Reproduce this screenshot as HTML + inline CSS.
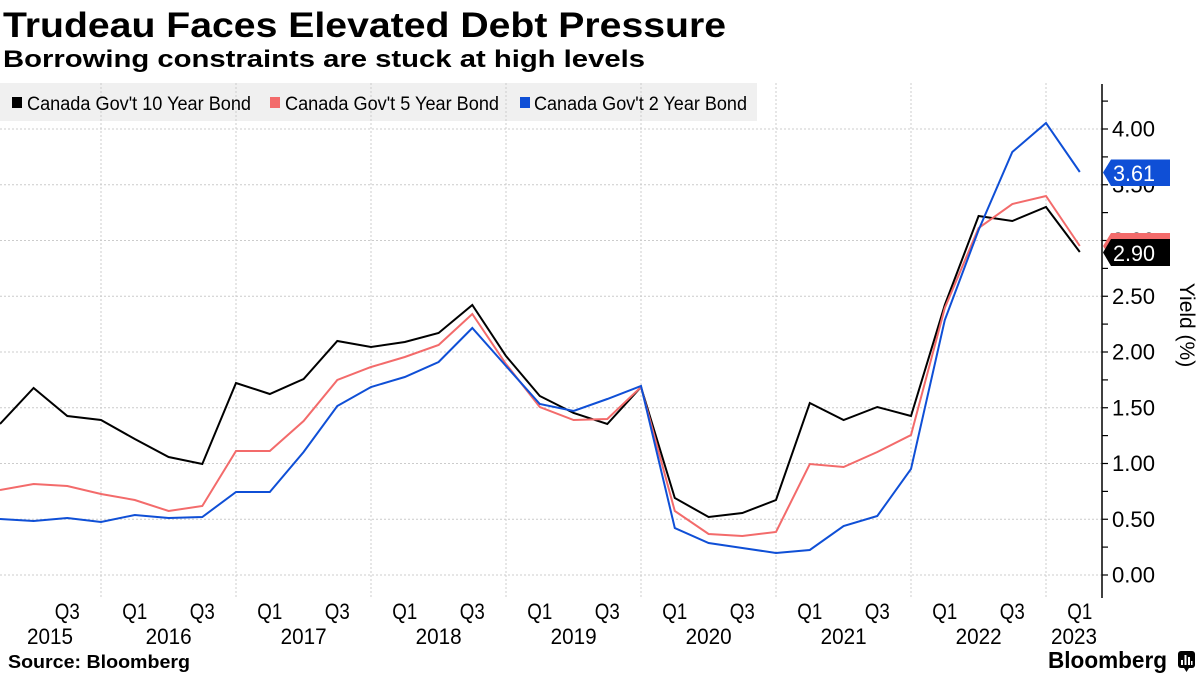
<!DOCTYPE html>
<html>
<head>
<meta charset="utf-8">
<style>
html,body{margin:0;padding:0;background:#fff;}
svg{display:block;}
text{font-family:"Liberation Sans",sans-serif;}
</style>
</head>
<body>
<svg width="1200" height="675" viewBox="0 0 1200 675" xmlns="http://www.w3.org/2000/svg">
<rect x="0" y="0" width="1200" height="675" fill="#fff"/>
<!-- Title -->
<text x="3" y="37" font-size="35" font-weight="bold" fill="#000" textLength="723" lengthAdjust="spacingAndGlyphs">Trudeau Faces Elevated Debt Pressure</text>
<text x="3" y="67" font-size="24" font-weight="bold" fill="#000" textLength="642" lengthAdjust="spacingAndGlyphs">Borrowing constraints are stuck at high levels</text>

<!-- Legend background -->
<rect x="0" y="83" width="757" height="38" fill="#f0f0f0"/>

<!-- Gridlines -->
<g stroke="#cccccc" stroke-width="1" stroke-dasharray="2,2" fill="none">
<line x1="0" y1="575" x2="1102" y2="575"/>
<line x1="0" y1="519.25" x2="1102" y2="519.25"/>
<line x1="0" y1="463.5" x2="1102" y2="463.5"/>
<line x1="0" y1="407.75" x2="1102" y2="407.75"/>
<line x1="0" y1="352" x2="1102" y2="352"/>
<line x1="0" y1="296.25" x2="1102" y2="296.25"/>
<line x1="0" y1="240.5" x2="1102" y2="240.5"/>
<line x1="0" y1="184.75" x2="1102" y2="184.75"/>
<line x1="0" y1="129" x2="1102" y2="129"/>
<line x1="101" y1="83" x2="101" y2="598"/>
<line x1="236" y1="83" x2="236" y2="598"/>
<line x1="371" y1="83" x2="371" y2="598"/>
<line x1="506" y1="83" x2="506" y2="598"/>
<line x1="641" y1="83" x2="641" y2="598"/>
<line x1="776" y1="83" x2="776" y2="598"/>
<line x1="911" y1="83" x2="911" y2="598"/>
<line x1="1046" y1="83" x2="1046" y2="598"/>
</g>

<!-- Legend items -->
<rect x="12" y="97" width="10" height="11" fill="#000"/>
<text x="27" y="110" font-size="19" fill="#000" textLength="224" lengthAdjust="spacingAndGlyphs">Canada Gov't 10 Year Bond</text>
<rect x="270" y="97" width="10" height="11" fill="#f36b6b"/>
<text x="285" y="110" font-size="19" fill="#000" textLength="214" lengthAdjust="spacingAndGlyphs">Canada Gov't 5 Year Bond</text>
<rect x="520" y="97" width="10" height="11" fill="#0f4fd6"/>
<text x="534" y="110" font-size="19" fill="#000" textLength="213" lengthAdjust="spacingAndGlyphs">Canada Gov't 2 Year Bond</text>

<!-- Series -->
<g fill="none" stroke-width="2" stroke-linejoin="miter">
<polyline stroke="#000" points="0,424 33.6,388 67.3,416 101,420 134.8,439 168.6,457 202.3,464 236,383 269.8,394 303.6,379 337.3,341 371,347 404.8,342 438.6,333 472.3,305 506,356 539.8,396 573.6,413 607.3,424 641,387 674.8,498 708.6,517 742.3,513 776,500 809.8,403 843.6,420 877.3,407 911,416 944.8,305 978.6,216 1012.3,221 1046,207 1079.8,252"/>
<polyline stroke="#f36b6b" points="0,490 33.6,484 67.3,486 101,494 134.8,500 168.6,511 202.3,506 236,451 269.8,451 303.6,421 337.3,380 371,367 404.8,357 438.6,345 472.3,314 506,364 539.8,407 573.6,420 607.3,419 641,387 674.8,511 708.6,534 742.3,536 776,532 809.8,464 843.6,467 877.3,452 911,435 944.8,308 978.6,228 1012.3,204 1046,196 1079.8,246"/>
<polyline stroke="#0f4fd6" points="0,519 33.6,521 67.3,518 101,522 134.8,515 168.6,518 202.3,517 236,492 269.8,492 303.6,452 337.3,406 371,387 404.8,377 438.6,362 472.3,328 506,366 539.8,404 573.6,411 607.3,399 641,386 674.8,528 708.6,543 742.3,548 776,553 809.8,550 843.6,526 877.3,516 911,469 944.8,320 978.6,230 1012.3,152 1046,123 1079.8,172"/>
</g>

<!-- Right axis -->
<line x1="1102" y1="84" x2="1102" y2="598" stroke="#000" stroke-width="1.5"/>
<g stroke="#000" stroke-width="1.2">
<line x1="1102" y1="575" x2="1108" y2="575"/>
<line x1="1102" y1="547.1" x2="1108" y2="547.1"/>
<line x1="1102" y1="519.25" x2="1108" y2="519.25"/>
<line x1="1102" y1="491.4" x2="1108" y2="491.4"/>
<line x1="1102" y1="463.5" x2="1108" y2="463.5"/>
<line x1="1102" y1="435.6" x2="1108" y2="435.6"/>
<line x1="1102" y1="407.75" x2="1108" y2="407.75"/>
<line x1="1102" y1="379.9" x2="1108" y2="379.9"/>
<line x1="1102" y1="352" x2="1108" y2="352"/>
<line x1="1102" y1="324.1" x2="1108" y2="324.1"/>
<line x1="1102" y1="296.25" x2="1108" y2="296.25"/>
<line x1="1102" y1="268.4" x2="1108" y2="268.4"/>
<line x1="1102" y1="240.5" x2="1108" y2="240.5"/>
<line x1="1102" y1="212.6" x2="1108" y2="212.6"/>
<line x1="1102" y1="184.75" x2="1108" y2="184.75"/>
<line x1="1102" y1="156.9" x2="1108" y2="156.9"/>
<line x1="1102" y1="129" x2="1108" y2="129"/>
<line x1="1102" y1="101.1" x2="1108" y2="101.1"/>
</g>
<g font-size="22" fill="#000">
<text x="1112" y="582.5" textLength="43" lengthAdjust="spacingAndGlyphs">0.00</text>
<text x="1112" y="527" textLength="43" lengthAdjust="spacingAndGlyphs">0.50</text>
<text x="1112" y="471" textLength="43" lengthAdjust="spacingAndGlyphs">1.00</text>
<text x="1112" y="415.5" textLength="43" lengthAdjust="spacingAndGlyphs">1.50</text>
<text x="1112" y="359.5" textLength="43" lengthAdjust="spacingAndGlyphs">2.00</text>
<text x="1112" y="304" textLength="43" lengthAdjust="spacingAndGlyphs">2.50</text>
<text x="1112" y="248" textLength="43" lengthAdjust="spacingAndGlyphs">3.00</text>
<text x="1112" y="192.5" textLength="43" lengthAdjust="spacingAndGlyphs">3.50</text>
<text x="1112" y="136.5" textLength="43" lengthAdjust="spacingAndGlyphs">4.00</text>
</g>
<text transform="translate(1180,325) rotate(90)" text-anchor="middle" font-size="21" fill="#000">Yield (%)</text>

<!-- Value tags -->
<polygon points="1103,172.5 1111,159.5 1170,159.5 1170,186 1111,186" fill="#0f4fd6"/>
<text x="1113" y="181" font-size="22" fill="#fff" textLength="42" lengthAdjust="spacingAndGlyphs">3.61</text>
<polygon points="1103,246 1111,233 1170,233 1170,259 1111,259" fill="#f36b6b"/>
<polygon points="1103,252.5 1111,239 1170,239 1170,266 1111,266" fill="#000"/>
<text x="1113" y="261" font-size="22" fill="#fff" textLength="42" lengthAdjust="spacingAndGlyphs">2.90</text>

<!-- X axis labels -->
<g font-size="22" fill="#000" text-anchor="middle">
<text x="67.3" y="619" textLength="25" lengthAdjust="spacingAndGlyphs">Q3</text>
<text x="134.8" y="619" textLength="25" lengthAdjust="spacingAndGlyphs">Q1</text>
<text x="202.3" y="619" textLength="25" lengthAdjust="spacingAndGlyphs">Q3</text>
<text x="269.8" y="619" textLength="25" lengthAdjust="spacingAndGlyphs">Q1</text>
<text x="337.3" y="619" textLength="25" lengthAdjust="spacingAndGlyphs">Q3</text>
<text x="404.8" y="619" textLength="25" lengthAdjust="spacingAndGlyphs">Q1</text>
<text x="472.3" y="619" textLength="25" lengthAdjust="spacingAndGlyphs">Q3</text>
<text x="539.8" y="619" textLength="25" lengthAdjust="spacingAndGlyphs">Q1</text>
<text x="607.3" y="619" textLength="25" lengthAdjust="spacingAndGlyphs">Q3</text>
<text x="674.8" y="619" textLength="25" lengthAdjust="spacingAndGlyphs">Q1</text>
<text x="742.3" y="619" textLength="25" lengthAdjust="spacingAndGlyphs">Q3</text>
<text x="809.8" y="619" textLength="25" lengthAdjust="spacingAndGlyphs">Q1</text>
<text x="877.3" y="619" textLength="25" lengthAdjust="spacingAndGlyphs">Q3</text>
<text x="944.8" y="619" textLength="25" lengthAdjust="spacingAndGlyphs">Q1</text>
<text x="1012.3" y="619" textLength="25" lengthAdjust="spacingAndGlyphs">Q3</text>
<text x="1079.8" y="619" textLength="25" lengthAdjust="spacingAndGlyphs">Q1</text>
<text x="50" y="644" textLength="46" lengthAdjust="spacingAndGlyphs">2015</text>
<text x="168.6" y="644" textLength="46" lengthAdjust="spacingAndGlyphs">2016</text>
<text x="303.6" y="644" textLength="46" lengthAdjust="spacingAndGlyphs">2017</text>
<text x="438.6" y="644" textLength="46" lengthAdjust="spacingAndGlyphs">2018</text>
<text x="573.6" y="644" textLength="46" lengthAdjust="spacingAndGlyphs">2019</text>
<text x="708.6" y="644" textLength="46" lengthAdjust="spacingAndGlyphs">2020</text>
<text x="843.6" y="644" textLength="46" lengthAdjust="spacingAndGlyphs">2021</text>
<text x="978.6" y="644" textLength="46" lengthAdjust="spacingAndGlyphs">2022</text>
<text x="1074" y="644" textLength="46" lengthAdjust="spacingAndGlyphs">2023</text>
</g>

<!-- Footer -->
<text x="8" y="668" font-size="18" font-weight="bold" fill="#000" textLength="182" lengthAdjust="spacingAndGlyphs">Source: Bloomberg</text>
<text x="1048" y="668" font-size="23" font-weight="bold" fill="#000" textLength="119" lengthAdjust="spacingAndGlyphs">Bloomberg</text>
<rect x="1178" y="651" width="17" height="17" rx="3" fill="#000"/>
<polygon points="1184,668 1189,668 1186.5,672" fill="#000"/>
<g fill="#fff">
<rect x="1181" y="660" width="2" height="5"/>
<rect x="1184.5" y="655" width="2" height="10"/>
<rect x="1188" y="657" width="2" height="8"/>
<rect x="1191" y="661" width="1.5" height="4"/>
</g>
</svg>
</body>
</html>
